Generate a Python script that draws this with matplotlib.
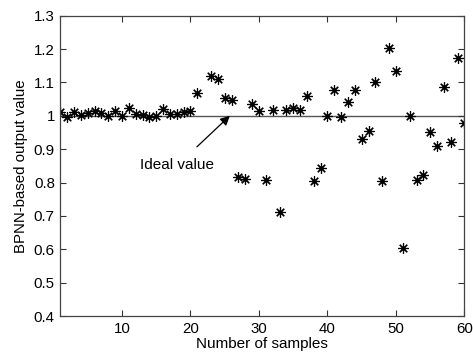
import numpy as np
import matplotlib
matplotlib.use("Agg")
import matplotlib.pyplot as plt

plt.rcParams['font.family'] = ['Liberation Sans', 'DejaVu Sans']

# Network output per test sample (sample 22 not recorded)
samples = [1, 2, 3, 4, 5, 6, 7, 8, 9, 10,
           11, 12, 13, 14, 15, 16, 17, 18, 19, 20,
           21, 23, 24, 25, 26, 27, 28, 29, 30,
           31, 32, 33, 34, 35, 36, 37, 38, 39, 40,
           41, 42, 43, 44, 45, 46, 47, 48, 49, 50,
           51, 52, 53, 54, 55, 56, 57, 58, 59, 60]
outputs = [1.010, 0.995, 1.010, 1.002, 1.008, 1.015, 1.007, 1.000, 1.014, 0.998,
           1.023, 1.006, 1.003, 0.996, 0.999, 1.020, 1.004, 1.004, 1.012, 1.013,
           1.068, 1.120, 1.109, 1.052, 1.048, 0.818, 0.810, 1.036, 1.014,
           0.808, 1.017, 0.711, 1.017, 1.023, 1.017, 1.058, 0.805, 0.843, 0.998,
           1.077, 0.997, 1.040, 1.077, 0.931, 0.955, 1.102, 0.805, 1.202, 1.135,
           0.605, 1.000, 0.808, 0.822, 0.952, 0.910, 1.085, 0.920, 1.172, 0.978]
ideal = 1.0

x_ticks = [10, 20, 30, 40, 50, 60]
y_ticks = [0.4, 0.5, 0.6, 0.7, 0.8, 0.9, 1.0, 1.1, 1.2, 1.3]
y_tick_labels = ['0.4', '0.5', '0.6', '0.7', '0.8', '0.9', '1', '1.1', '1.2', '1.3']

fig = plt.figure(figsize=(4.73, 3.58), dpi=100)
ax = fig.add_axes([0.1275, 0.1173, 0.8545, 0.839])

ax.plot([1, 60], [ideal, ideal], color='#555555', linewidth=1.0, zorder=1)
ax.plot(samples, outputs, linestyle='none', marker=(8, 2, 0), markersize=7.5,
        markeredgewidth=0.85, color='black', zorder=2)

ax.annotate('Ideal value', xy=(25.75, ideal), xytext=(18.1, 0.852),
            ha='center', va='center', fontsize=11,
            arrowprops=dict(arrowstyle='-|>', color='black', lw=0.9,
                            mutation_scale=14, shrinkA=9, shrinkB=0))

ax.set_xlim(1, 60)
ax.set_ylim(0.4, 1.3)
ax.set_xticks(x_ticks)
ax.set_yticks(y_ticks)
ax.set_yticklabels(y_tick_labels)
ax.tick_params(direction='in', top=True, right=True, length=4, width=0.8,
               labelsize=10.8, colors='#333333', labelcolor='black', pad=4)
for s in ax.spines.values():
    s.set_color('#444444')
    s.set_linewidth(0.9)

ax.set_xlabel('Number of samples', fontsize=11, labelpad=1)
ax.set_ylabel('BPNN-based output value', fontsize=10.8, labelpad=4)

fig.savefig('out.png', dpi=100)
